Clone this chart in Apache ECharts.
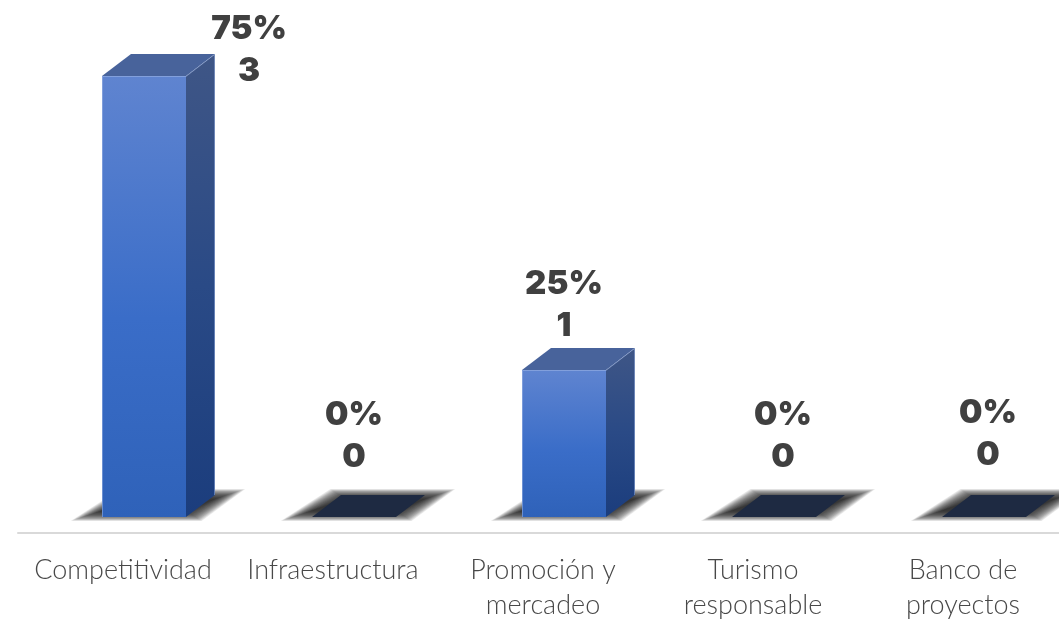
<!DOCTYPE html>
<html>
<head>
<meta charset="utf-8">
<style>html,body{margin:0;padding:0;background:#fff}#c{width:1059px;height:619px}</style>
<script src="https://cdn.jsdelivr.net/npm/echarts@6/dist/echarts.min.js"></script>
</head>
<body>
<div id="c"></div>
<script>
const categories = ['Competitividad', 'Infraestructura', 'Promoción y\nmercadeo', 'Turismo\nresponsable', 'Banco de\nproyectos'];
const counts = [3, 0, 1, 0, 0];
const percents = ['75%', '0%', '25%', '0%', '0%'];

// layout tuning for the hand-placed data labels (dx, dy of the label block from bar centre / bar top)
const labelNudge = [[105, -26], [0, -81], [0, -65], [9, -81], [4, -83]];
const BAR_SHIFT = 21, DX = 29, DY = 22;

const chart = echarts.init(document.getElementById('c'), null, {renderer: 'canvas'});

function grad(stops) {
  return new echarts.graphic.LinearGradient(0, 0, 0, 1, stops.map(c => ({offset: c[0], color: c[1]})));
}

function renderItem(params, api) {
  const i = api.value(0), v = api.value(1);
  const base = api.coord([i, 0]);
  const top = api.coord([i, v]);
  const band = api.size([1, 0])[0];
  const w = band * 0.4;
  const x0 = base[0] + BAR_SHIFT - w / 2, x1 = x0 + w;
  const yb = base[1], yt = top[1];
  const children = [];
  // soft cast shadow on the floor, built from stacked translucent layers
  const LAYERS = 28;
  for (let k = LAYERS; k >= 0; k--) {
    const g = (k - 14) * 1.1, gy = (k - 14) * 0.36;
    children.push({
      type: 'polygon', z2: 1,
      shape: {points: [
        [x0 - 16 - g, yb - 1 + gy],
        [x1 + 8 + g * 0.5, yb - 1 + gy],
        [x1 + 44 + g, yb - DY - 1 - gy],
        [x0 + 26 - g * 0.5, yb - DY - 1 - gy]
      ]},
      style: {fill: 'rgba(30,30,30,0.065)'}
    });
  }
  if (v > 0) {
    children.push({
      type: 'polygon', z2: 2,
      shape: {points: [[x1, yt], [x1 + DX, yt - DY], [x1 + DX, yb - DY], [x1, yb]]},
      style: {fill: grad([[0, '#3f5686'], [0.5, '#2a4a86'], [1, '#1b3d7d']])}
    });
    children.push({
      type: 'polygon', z2: 2,
      shape: {points: [[x0, yt], [x0 + DX, yt - DY], [x1 + DX, yt - DY], [x1, yt]]},
      style: {fill: '#48639b'}
    });
    children.push({
      type: 'rect', z2: 3,
      shape: {x: x0, y: yt, width: w, height: yb - yt},
      style: {fill: grad([[0, '#5f84d0'], [0.55, '#3a6dc8'], [1, '#2f62b9']])}
    });
    children.push({
      type: 'polyline', z2: 4,
      shape: {points: [[x0 + 0.5, yb], [x0 + 0.5, yt + 0.5], [x1, yt + 0.5], [x1 + DX - 0.5, yt - DY + 0.5], [x1 + DX - 0.5, yb - DY]]},
      style: {fill: 'none', stroke: 'rgba(165,188,232,0.5)', lineWidth: 1}
    });
  } else {
    children.push({
      type: 'polygon', z2: 2,
      shape: {points: [[x0, yb], [x0 + DX, yb - DY], [x1 + DX, yb - DY], [x1, yb]]},
      style: {fill: '#1e2a42'}
    });
  }
  const n = labelNudge[i];
  children.push({
    type: 'text', z2: 5,
    x: base[0] + BAR_SHIFT + n[0],
    y: yt + n[1],
    style: {
      text: percents[i] + '\n' + v,
      align: 'center',
      verticalAlign: 'middle',
      fontFamily: 'Inter',
      fontWeight: 900,
      fontSize: 33,
      lineHeight: 42,
      fill: '#404040'
    }
  });
  return {type: 'group', children};
}

chart.setOption({
  animation: false,
  backgroundColor: '#fff',
  grid: {left: 18, top: 76, width: 1050, height: 441, outerBoundsMode: 'none'},
  xAxis: {
    type: 'category',
    data: categories,
    offset: 16,
    axisTick: {show: false},
    axisLine: {onZero: false, lineStyle: {color: '#d9d9d9', width: 2}},
    axisLabel: {
      interval: 0,
      margin: 20,
      fontFamily: 'Lato',
      fontWeight: 300,
      fontSize: 27,
      lineHeight: 35,
      color: '#484848'
    }
  },
  yAxis: {type: 'value', min: 0, max: 3, show: false},
  series: [{
    type: 'custom',
    renderItem,
    encode: {x: 0, y: 1},
    data: counts.map((v, i) => [i, v])
  }]
});
</script>
</body>
</html>
